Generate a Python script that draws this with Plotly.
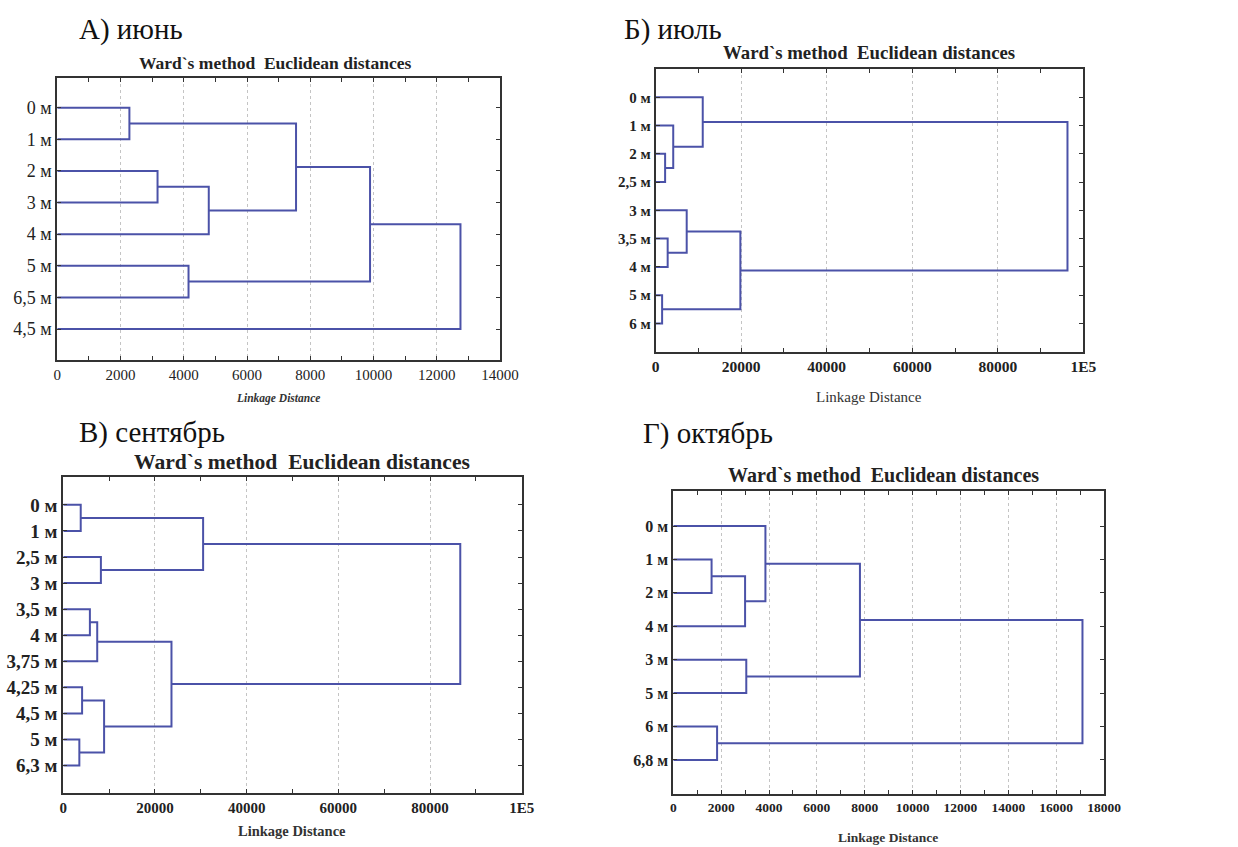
import plotly.graph_objects as go

W, H = 1238, 847
FONT = "Liberation Serif"
LINE_COLOR = "#4b52a8"

# ---------------- data ----------------
# A) June
labels_a = ["0 м", "1 м", "2 м", "3 м", "4 м", "5 м", "6,5 м", "4,5 м"]
left_a = [0, 2, 5, 9, 8, 12, 13]
right_a = [1, 3, 6, 4, 11, 10, 7]
dist_a = [2280, 3170, 4150, 4790, 7550, 9890, 12750]
xticks_a = [0, 2000, 4000, 6000, 8000, 10000, 12000, 14000]
xticktext_a = ["0", "2000", "4000", "6000", "8000", "10000", "12000", "14000"]

# Б) July
labels_b = ["0 м", "1 м", "2 м", "2,5 м", "3 м", "3,5 м", "4 м", "5 м", "6 м"]
left_b = [7, 2, 5, 1, 4, 0, 13, 14]
right_b = [8, 3, 6, 10, 11, 12, 9, 15]
dist_b = [1500, 2200, 2800, 4100, 7250, 11000, 19800, 96300]
xticks_b = [0, 20000, 40000, 60000, 80000, 100000]
xticktext_b = ["0", "20000", "40000", "60000", "80000", "1E5"]

# В) September
labels_c = ["0 м", "1 м", "2,5 м", "3 м", "3,5 м", "4 м", "3,75 м",
            "4,25 м", "4,5 м", "5 м", "6,3 м"]
left_c = [9, 0, 7, 4, 14, 2, 13, 15, 12, 19]
right_c = [10, 1, 8, 5, 6, 3, 11, 17, 16, 18]
dist_c = [3500, 3800, 4100, 5800, 7400, 8200, 8900, 23600, 30500, 86600]
xticks_c = [0, 20000, 40000, 60000, 80000, 100000]
xticktext_c = ["0", "20000", "40000", "60000", "80000", "1E5"]

# Г) October
labels_d = ["0 м", "1 м", "2 м", "4 м", "3 м", "5 м", "6 м", "6,8 м"]
left_d = [1, 6, 8, 4, 0, 12, 13]
right_d = [2, 7, 3, 5, 10, 11, 9]
dist_d = [1600, 1830, 3000, 3050, 3850, 7800, 17100]
xticks_d = [0, 2000, 4000, 6000, 8000, 10000, 12000, 14000, 16000, 18000]
xticktext_d = ["0", "2000", "4000", "6000", "8000", "10000", "12000",
               "14000", "16000", "18000"]

panel_labels = ["А) июнь", "Б) июль", "В) сентябрь", "Г) октябрь"]
chart_title = "Ward`s method  Euclidean distances"


def dendro_segments(n, left, right, dist):
    ypos = {i: i + 1 for i in range(n)}
    xpos = {i: 0 for i in range(n)}
    xs, ys = [], []
    for k, (a, b, d) in enumerate(zip(left, right, dist)):
        cid = n + k
        xs += [xpos[a], d, d, xpos[b], None]
        ys += [ypos[a], ypos[a], ypos[b], ypos[b], None]
        xpos[cid] = d
        ypos[cid] = (ypos[a] + ypos[b]) / 2
    return xs, ys


def px_x(p):
    return p / W


def px_y(p):
    return 1 - p / H


panels = [
    dict(labels=labels_a, left=left_a, right=right_a, dist=dist_a,
         xt=xticks_a, xtt=xticktext_a, minor=1000, xr=[0, 14000],
         box=(57.3, 500, 78, 360), yr=[8.98, 0.06],
         ytf=dict(size=18), xtf=dict(size=15),
         lab=(77, 30), title=(275, 63, 17.5), xtit=(278, 398),
         xtitfont=dict(size=11.5), xtittext="<b><i>Linkage Distance</i></b>",
         ylab_bold=False, xlab_bold=False),
    dict(labels=labels_b, left=left_b, right=right_b, dist=dist_b,
         xt=xticks_b, xtt=xticktext_b, minor=10000, xr=[0, 100000],
         box=(655.7, 1083.3, 69, 351.7), yr=[10, 0],
         ytf=dict(size=15), xtf=dict(size=15.5),
         lab=(622, 30), title=(869, 53, 18.8), xtit=(869, 397),
         xtitfont=dict(size=15), xtittext="Linkage Distance",
         ylab_bold=True, xlab_bold=True),
    dict(labels=labels_c, left=left_c, right=right_c, dist=dist_c,
         xt=xticks_c, xtt=xticktext_c, minor=10000, xr=[0, 100000],
         box=(63.3, 521.7, 476.7, 792.7), yr=[12.04, -0.08],
         ytf=dict(size=19), xtf=dict(size=15),
         lab=(77, 432), title=(302, 462, 21.6), xtit=(292, 831),
         xtitfont=dict(size=14.5), xtittext="<b>Linkage Distance</b>",
         ylab_bold=True, xlab_bold=True),
    dict(labels=labels_d, left=left_d, right=right_d, dist=dist_d,
         xt=xticks_d, xtt=xticktext_d, minor=1000, xr=[0, 18000],
         box=(673.3, 1104, 491, 794), yr=[9.02, -0.05],
         ytf=dict(size=16), xtf=dict(size=13.5),
         lab=(641, 433), title=(883, 475, 20), xtit=(888, 837),
         xtitfont=dict(size=13.5), xtittext="<b>Linkage Distance</b>",
         ylab_bold=True, xlab_bold=True),
]

fig = go.Figure()
annotations = []
layout = {}

for i, p in enumerate(panels):
    idx = "" if i == 0 else str(i + 1)
    xa, ya = "x" + idx, "y" + idx
    n = len(p["labels"])
    xs, ys = dendro_segments(n, p["left"], p["right"], p["dist"])
    fig.add_trace(go.Scatter(x=xs, y=ys, mode="lines", xaxis=xa, yaxis=ya,
                             line=dict(color=LINE_COLOR, width=2),
                             hoverinfo="skip", showlegend=False))
    x0, x1, y0, y1 = p["box"]
    ytext = [("<b>%s</b>" % t) if p["ylab_bold"] else t for t in p["labels"]]
    xtext = [("<b>%s</b>" % t) if p["xlab_bold"] else t for t in p["xtt"]]
    layout["xaxis" + idx] = dict(
        domain=[px_x(x0), px_x(x1)], anchor=ya, range=p["xr"],
        tickmode="array", tickvals=p["xt"], ticktext=xtext,
        ticks="inside", ticklen=4, tickcolor="#333", tickwidth=1,
        minor=dict(tickmode="linear", tick0=0, dtick=p["minor"],
                   ticks="inside", ticklen=4, tickcolor="#333",
                   showgrid=False),
        showline=True, linecolor="#333", linewidth=2, mirror="ticks",
        showgrid=True, gridcolor="#c4c4c4", griddash="dot", gridwidth=1,
        zeroline=False, fixedrange=True, automargin=False,
        tickfont=dict(family=FONT, color="#222", **p["xtf"]),
    )
    layout["yaxis" + idx] = dict(
        domain=[px_y(y1), px_y(y0)], anchor=xa, range=p["yr"],
        tickmode="array", tickvals=list(range(1, n + 1)), ticktext=ytext,
        ticks="inside", ticklen=4, tickcolor="#333", tickwidth=1,
        showline=True, linecolor="#333", linewidth=2, mirror="ticks",
        showgrid=False, zeroline=False, fixedrange=True, automargin=False,
        ticklabelstandoff=0,
        tickfont=dict(family=FONT, color="#222", **p["ytf"]),
    )
    lx, ly = p["lab"]
    annotations.append(dict(text=panel_labels[i], x=px_x(lx), y=px_y(ly),
                            xref="paper", yref="paper", xanchor="left",
                            yanchor="middle", showarrow=False,
                            font=dict(family=FONT, size=29, color="#111")))
    tx, ty, ts = p["title"]
    annotations.append(dict(text="<b>%s</b>" % chart_title, x=px_x(tx),
                            y=px_y(ty), xref="paper", yref="paper",
                            xanchor="center", yanchor="middle",
                            showarrow=False,
                            font=dict(family=FONT, size=ts, color="#222")))
    ax_, ay_ = p["xtit"]
    annotations.append(dict(text=p["xtittext"], x=px_x(ax_), y=px_y(ay_),
                            xref="paper", yref="paper", xanchor="center",
                            yanchor="middle", showarrow=False,
                            font=dict(family=FONT, color="#333",
                                      **p["xtitfont"])))

fig.update_layout(width=W, height=H,
                  margin=dict(l=0, r=0, t=0, b=0, pad=0, autoexpand=False),
                  paper_bgcolor="white", plot_bgcolor="white",
                  annotations=annotations, **layout)

fig.write_html(
    "out.html",
    config={"displayModeBar": False},
    post_script="document.body.style.margin='0';"
                "document.body.style.overflow='hidden';",
)
